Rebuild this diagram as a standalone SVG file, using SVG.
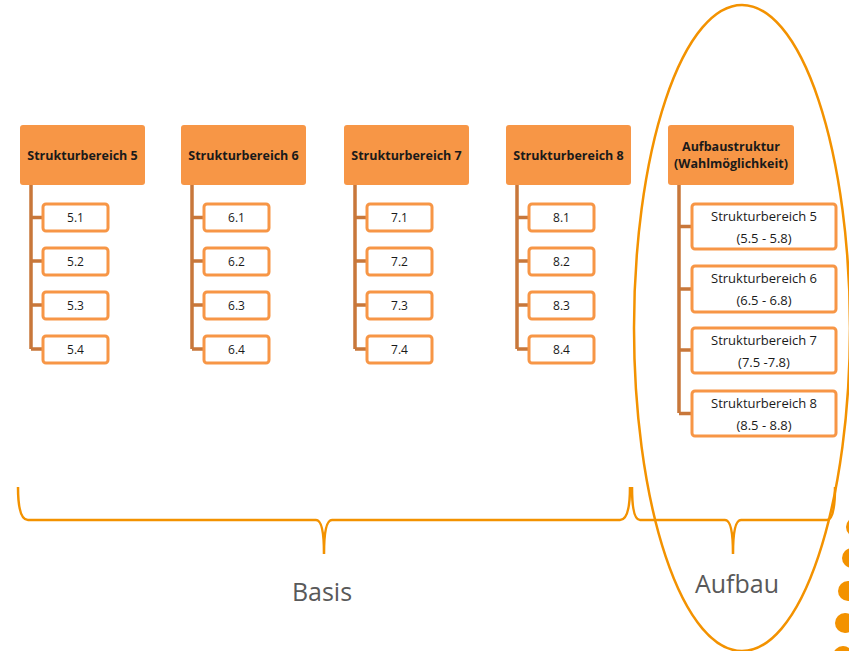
<svg xmlns="http://www.w3.org/2000/svg" width="849" height="651" viewBox="0 0 849 651">
<style>
.hdr{fill:#f79646;stroke:none}
.ht{font-family:"Open Sans","Liberation Sans",sans-serif;font-weight:bold;font-size:12.5px;fill:#1a1a1a;text-anchor:middle}
.ch{fill:#ffffff;stroke:#f79646;stroke-width:3}
.ct{font-family:"Open Sans","Liberation Sans",sans-serif;font-size:12px;fill:#1a1a1a;text-anchor:middle}
.at{font-family:"Open Sans","Liberation Sans",sans-serif;font-size:13px;fill:#1a1a1a;text-anchor:middle}
.conn{fill:none;stroke:#c8773a;stroke-width:3.5}
.brace{fill:none;stroke:#f39200;stroke-width:2.5}
.lbl{font-family:"Open Sans","Liberation Sans",sans-serif;font-size:25px;fill:#595959;text-anchor:middle}
.dot{fill:#f39200}
</style>
<g id="connectors">
<path class="conn" d="M31,185V349M31,217.5H43M31,261H43M31,305H43M31,349H43"/>
<path class="conn" d="M192,185V349M192,217.5H204M192,261H204M192,305H204M192,349H204"/>
<path class="conn" d="M355,185V349M355,217.5H367M355,261H367M355,305H367M355,349H367"/>
<path class="conn" d="M517,185V349M517,217.5H529M517,261H529M517,305H529M517,349H529"/>
<path class="conn" d="M679,185V413M679,226.5H692M679,289H692M679,350H692M679,413.5H692"/>
</g>
<g id="sb5">
<rect class="hdr" x="20" y="125" width="125" height="60" rx="3"/>
<text class="ht" x="82.5" y="160">Strukturbereich 5</text>
</g>
<g id="n5-1"><rect class="ch" x="43" y="204" width="65" height="27" rx="3"/><text class="ct" x="75.5" y="222">5.1</text></g>
<g id="n5-2"><rect class="ch" x="43" y="248" width="65" height="27" rx="3"/><text class="ct" x="75.5" y="266">5.2</text></g>
<g id="n5-3"><rect class="ch" x="43" y="292" width="65" height="27" rx="3"/><text class="ct" x="75.5" y="310">5.3</text></g>
<g id="n5-4"><rect class="ch" x="43" y="336" width="65" height="27" rx="3"/><text class="ct" x="75.5" y="354">5.4</text></g>
<g id="sb6">
<rect class="hdr" x="181" y="125" width="125" height="60" rx="3"/>
<text class="ht" x="243.5" y="160">Strukturbereich 6</text>
</g>
<g id="n6-1"><rect class="ch" x="204" y="204" width="65" height="27" rx="3"/><text class="ct" x="236.5" y="222">6.1</text></g>
<g id="n6-2"><rect class="ch" x="204" y="248" width="65" height="27" rx="3"/><text class="ct" x="236.5" y="266">6.2</text></g>
<g id="n6-3"><rect class="ch" x="204" y="292" width="65" height="27" rx="3"/><text class="ct" x="236.5" y="310">6.3</text></g>
<g id="n6-4"><rect class="ch" x="204" y="336" width="65" height="27" rx="3"/><text class="ct" x="236.5" y="354">6.4</text></g>
<g id="sb7">
<rect class="hdr" x="344" y="125" width="125" height="60" rx="3"/>
<text class="ht" x="406.5" y="160">Strukturbereich 7</text>
</g>
<g id="n7-1"><rect class="ch" x="367" y="204" width="65" height="27" rx="3"/><text class="ct" x="399.5" y="222">7.1</text></g>
<g id="n7-2"><rect class="ch" x="367" y="248" width="65" height="27" rx="3"/><text class="ct" x="399.5" y="266">7.2</text></g>
<g id="n7-3"><rect class="ch" x="367" y="292" width="65" height="27" rx="3"/><text class="ct" x="399.5" y="310">7.3</text></g>
<g id="n7-4"><rect class="ch" x="367" y="336" width="65" height="27" rx="3"/><text class="ct" x="399.5" y="354">7.4</text></g>
<g id="sb8">
<rect class="hdr" x="506" y="125" width="125" height="60" rx="3"/>
<text class="ht" x="568.5" y="160">Strukturbereich 8</text>
</g>
<g id="n8-1"><rect class="ch" x="529" y="204" width="65" height="27" rx="3"/><text class="ct" x="561.5" y="222">8.1</text></g>
<g id="n8-2"><rect class="ch" x="529" y="248" width="65" height="27" rx="3"/><text class="ct" x="561.5" y="266">8.2</text></g>
<g id="n8-3"><rect class="ch" x="529" y="292" width="65" height="27" rx="3"/><text class="ct" x="561.5" y="310">8.3</text></g>
<g id="n8-4"><rect class="ch" x="529" y="336" width="65" height="27" rx="3"/><text class="ct" x="561.5" y="354">8.4</text></g>
<g id="aufbaustruktur">
<rect class="hdr" x="668" y="125" width="126" height="60" rx="3"/>
<text class="ht" x="731" y="151">Aufbaustruktur</text>
<text class="ht" x="731" y="168">(Wahlmöglichkeit)</text>
</g>
<g id="a5"><rect class="ch" x="692" y="204" width="144" height="45" rx="3"/><text class="at" x="764" y="221">Strukturbereich 5</text><text class="at" x="764" y="243">(5.5 - 5.8)</text></g>
<g id="a6"><rect class="ch" x="692" y="266" width="144" height="46" rx="3"/><text class="at" x="764" y="283">Strukturbereich 6</text><text class="at" x="764" y="305">(6.5 - 6.8)</text></g>
<g id="a7"><rect class="ch" x="692" y="328" width="144" height="45" rx="3"/><text class="at" x="764" y="345">Strukturbereich 7</text><text class="at" x="764" y="367">(7.5 -7.8)</text></g>
<g id="a8"><rect class="ch" x="692" y="391" width="144" height="45" rx="3"/><text class="at" x="764" y="408">Strukturbereich 8</text><text class="at" x="764" y="430">(8.5 - 8.8)</text></g>
<g id="braces">
<path class="brace" d="M18,487Q18,520 28,520L316,520Q324,520 324,554Q324,520 332,520L620,520Q630,520 630,487"/>
<path class="brace" d="M632,487Q632,520 640,520L725,520Q733,520 733,554Q733,520 741,520L827,520Q835,520 835,487"/>
</g>
<g id="ellipse">
<ellipse cx="742" cy="328" rx="108" ry="323" fill="none" stroke="#f39200" stroke-width="2.5"/>
</g>
<g id="labels">
<text class="lbl" x="322" y="601">Basis</text>
<text class="lbl" x="737" y="593">Aufbau</text>
</g>
<g id="dots">
<circle class="dot" cx="856" cy="527" r="10"/>
<circle class="dot" cx="852" cy="558" r="10"/>
<circle class="dot" cx="848" cy="591" r="10"/>
<circle class="dot" cx="845" cy="623" r="10"/>
<circle class="dot" cx="843" cy="656" r="10"/>
</g>
</svg>
